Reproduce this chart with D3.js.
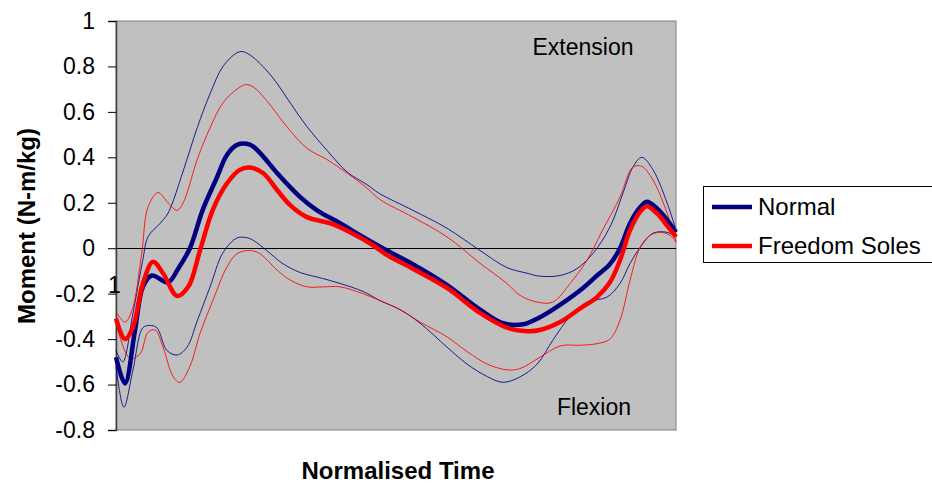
<!DOCTYPE html>
<html>
<head>
<meta charset="utf-8">
<script src="https://cdn.jsdelivr.net/npm/d3@7"></script>
<style>
  body { margin: 0; background: #fff; }
  text { font-family: Arial, "Liberation Sans", sans-serif; }
</style>
</head>
<body>
<script>
var width = 932, height = 485;

// ---- data: [normalised time %, moment N-m/kg] ----
var normalMean = [[0,-0.48],[1.6,-0.595],[3.4,-0.36],[4.8,-0.17],[6.4,-0.12],[9.3,-0.15],[11.1,-0.09],[13.2,0.0],[15.5,0.17],[18,0.31],[19.8,0.41],[21.6,0.455],[24,0.455],[25.7,0.42],[28.8,0.33],[32.9,0.225],[35.9,0.167],[40,0.11],[44.1,0.05],[48.4,-0.01],[53,-0.07],[59,-0.16],[65,-0.27],[69.1,-0.33],[72.7,-0.335],[75.2,-0.31],[78,-0.27],[82.9,-0.185],[85.9,-0.12],[88.2,-0.07],[90,0.0],[91.8,0.11],[93.6,0.18],[94.8,0.205],[96.6,0.175],[98.4,0.125],[100,0.07]];
var freedomMean = [[0,-0.31],[1.6,-0.40],[3,-0.35],[4.8,-0.155],[6.6,-0.06],[8.4,-0.11],[10.9,-0.21],[12.9,-0.17],[15,-0.01],[17.3,0.17],[19.8,0.285],[22.1,0.345],[23.9,0.355],[26.3,0.33],[28.8,0.255],[31.1,0.19],[34.1,0.137],[38.2,0.11],[41.8,0.07],[45.9,0.013],[48.4,-0.03],[53,-0.09],[59.1,-0.175],[65,-0.285],[69.8,-0.35],[73.4,-0.365],[75.7,-0.36],[79.3,-0.325],[82.9,-0.265],[85.9,-0.215],[88.2,-0.15],[90,-0.053],[91.8,0.08],[93.6,0.16],[94.8,0.185],[96.6,0.153],[98.4,0.10],[100,0.05]];
var normalUpper = [[0,-0.45],[1.2,-0.5],[3,-0.29],[4.8,-0.05],[5.7,0.05],[7.9,0.11],[9.3,0.155],[12,0.34],[14.5,0.53],[16.8,0.68],[19.1,0.80],[21.6,0.86],[22.7,0.865],[24.5,0.84],[28,0.75],[31.1,0.64],[34.1,0.535],[37.7,0.43],[41.3,0.335],[44.8,0.28],[47.1,0.24],[53,0.167],[59.1,0.088],[65,-0.01],[69.8,-0.085],[73.4,-0.11],[75.7,-0.123],[79.3,-0.12],[82.3,-0.09],[85.2,-0.022],[88.2,0.093],[90.5,0.24],[92.3,0.357],[93.9,0.40],[95.9,0.345],[98.4,0.2],[100,0.08]];
var freedomUpper = [[0,-0.28],[1.6,-0.325],[2.9,-0.27],[4.6,-0.02],[5.7,0.18],[7.5,0.245],[9.3,0.2],[10.9,0.167],[12,0.2],[14.5,0.39],[16.8,0.53],[19.1,0.64],[21.6,0.70],[23.2,0.72],[24.5,0.71],[26.9,0.65],[30.5,0.535],[34.1,0.44],[37.7,0.39],[41.3,0.33],[44.8,0.265],[47.1,0.215],[53,0.137],[59.1,0.05],[65,-0.066],[69.8,-0.155],[72.1,-0.207],[75.2,-0.237],[78,-0.237],[81.1,-0.155],[84.1,-0.053],[86.9,0.08],[90,0.225],[92.3,0.357],[93.9,0.36],[95.9,0.30],[98.4,0.155],[100,0.03]];
var normalLower = [[0,-0.52],[1.4,-0.70],[3,-0.54],[4.8,-0.35],[6.1,-0.34],[7.3,-0.35],[9.1,-0.45],[10.9,-0.47],[12.7,-0.435],[14.5,-0.32],[16.8,-0.17],[19.1,-0.02],[21.6,0.045],[23.2,0.047],[24.5,0.035],[26.9,-0.01],[29.8,-0.068],[32.9,-0.107],[36.9,-0.133],[40,-0.155],[44.1,-0.19],[47.1,-0.23],[50.7,-0.27],[54.3,-0.33],[59.1,-0.435],[62.7,-0.51],[66.3,-0.565],[69.1,-0.59],[72.1,-0.567],[75.2,-0.51],[78,-0.405],[81.1,-0.30],[84.1,-0.237],[87.7,-0.215],[90,-0.155],[91.8,-0.067],[93.6,0.004],[95.9,0.066],[98.4,0.07],[100,0.05]];
var freedomLower = [[0,-0.33],[2.5,-0.485],[4.3,-0.465],[5.7,-0.37],[7,-0.36],[8.4,-0.435],[10.2,-0.565],[11.4,-0.59],[13.2,-0.52],[15,-0.375],[17.3,-0.23],[19.8,-0.083],[21.6,-0.024],[23.9,-0.01],[25.7,-0.024],[28.8,-0.097],[31.1,-0.14],[34.1,-0.17],[37,-0.17],[40,-0.17],[44.1,-0.2],[47.1,-0.23],[50.7,-0.27],[54.3,-0.325],[59.1,-0.39],[62.7,-0.455],[66.3,-0.51],[69.8,-0.535],[72.1,-0.53],[75.7,-0.48],[79.3,-0.43],[82.9,-0.427],[85.9,-0.42],[88.2,-0.40],[90,-0.317],[91.8,-0.14],[93.6,0.004],[95.4,0.057],[97.1,0.07],[98.9,0.057],[100,0.026]];

var yTicks = [1, 0.8, 0.6, 0.4, 0.2, 0, -0.2, -0.4, -0.6, -0.8];
var legendNames = ["Normal", "Freedom Soles"];
var legendColors = ["#000080", "#ff0000"];

/* ============ layout ============ */
var plot = {left: 116, right: 676, top: 21, bottom: 430};

var x = d3.scaleLinear().domain([0, 100]).range([plot.left, plot.right]);
var y = d3.scaleLinear().domain([-0.8, 1]).range([plot.bottom, plot.top]);

var svg = d3.select("body").append("svg")
    .attr("width", width)
    .attr("height", height);

// plot area
svg.append("rect")
    .attr("x", plot.left).attr("y", plot.top)
    .attr("width", plot.right - plot.left).attr("height", plot.bottom - plot.top)
    .attr("fill", "#c0c0c0")
    .attr("stroke", "#808080").attr("stroke-width", 1);

// zero line
svg.append("line")
    .attr("x1", plot.left).attr("x2", plot.right)
    .attr("y1", Math.round(y(0)) + 0.5).attr("y2", Math.round(y(0)) + 0.5)
    .attr("stroke", "#000").attr("stroke-width", 1);

// y axis (plain hyphen for negatives, like the original)
var yAxis = d3.axisLeft(y)
    .tickValues(yTicks)
    .tickSize(8)
    .tickPadding(13)
    .tickFormat(d => String(d));

var gy = svg.append("g")
    .attr("transform", "translate(" + plot.left + ",0)")
    .call(yAxis);
gy.select(".domain").attr("stroke", "#404040").attr("stroke-width", 1.5);
gy.selectAll(".tick line").attr("stroke", "#000");
gy.selectAll(".tick text")
    .attr("font-size", 23)
    .attr("fill", "#000")
    .style("font-family", "Arial, 'Liberation Sans', sans-serif");

// lines
var line = d3.line()
    .x(d => x(d[0]))
    .y(d => y(d[1]))
    .curve(d3.curveCatmullRom.alpha(0.5));

var thin = [
  {data: normalUpper, color: "#000080"},
  {data: normalLower, color: "#000080"},
  {data: freedomUpper, color: "#ff0000"},
  {data: freedomLower, color: "#ff0000"}
];
svg.selectAll(".sd")
    .data(thin)
  .enter().append("path")
    .attr("class", "sd")
    .attr("d", d => line(d.data))
    .attr("fill", "none")
    .attr("stroke", d => d.color)
    .attr("stroke-opacity", 0.85)
    .attr("stroke-width", 1);

var thick = [
  {data: normalMean, color: legendColors[0]},
  {data: freedomMean, color: legendColors[1]}
];
svg.selectAll(".mean")
    .data(thick)
  .enter().append("path")
    .attr("class", "mean")
    .attr("d", d => line(d.data))
    .attr("fill", "none")
    .attr("stroke", d => d.color)
    .attr("stroke-width", 4.5)
    .attr("stroke-linejoin", "round");

// stray label beside the axis
svg.append("text")
    .attr("x", 108).attr("y", 293)
    .attr("font-size", 23)
    .text("1");

// annotations
svg.append("text")
    .attr("x", 583).attr("y", 55)
    .attr("text-anchor", "middle")
    .attr("font-size", 23)
    .text("Extension");
svg.append("text")
    .attr("x", 594).attr("y", 415)
    .attr("text-anchor", "middle")
    .attr("font-size", 23)
    .text("Flexion");

// axis titles
svg.append("text")
    .attr("x", 398).attr("y", 479)
    .attr("text-anchor", "middle")
    .attr("font-size", 24)
    .attr("font-weight", "bold")
    .text("Normalised Time");
svg.append("text")
    .attr("transform", "translate(35,226) rotate(-90)")
    .attr("text-anchor", "middle")
    .attr("font-size", 24)
    .attr("font-weight", "bold")
    .text("Moment (N-m/kg)");

// legend
var legend = svg.append("g").attr("transform", "translate(703,186)");
legend.append("rect")
    .attr("x", 0.5).attr("y", 0.5)
    .attr("width", 240).attr("height", 76)
    .attr("fill", "#fff")
    .attr("stroke", "#000").attr("stroke-width", 1);
var item = legend.selectAll(".item")
    .data(legendNames)
  .enter().append("g")
    .attr("class", "item")
    .attr("transform", (d, i) => "translate(0," + (21 + i * 39) + ")");
item.append("line")
    .attr("x1", 9).attr("x2", 49)
    .attr("stroke", (d, i) => legendColors[i])
    .attr("stroke-width", 4.5);
item.append("text")
    .attr("x", 55).attr("y", 8)
    .attr("font-size", 24)
    .text(d => d);
</script>
</body>
</html>
